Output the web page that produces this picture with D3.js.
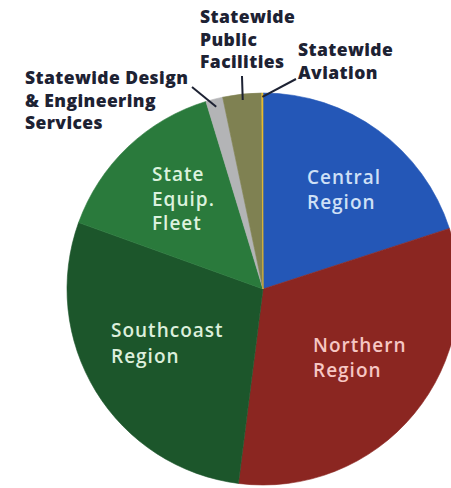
<!DOCTYPE html>
<html>
<head>
<meta charset="utf-8">
<script src="https://cdn.jsdelivr.net/npm/d3@7"></script>
<style>
  html, body { margin: 0; padding: 0; background: #ffffff; }
  svg { display: block; }
</style>
</head>
<body>
<svg id="chart" width="451" height="488"></svg>
<script>
// ---- data ----
const categories = [
  "Central Region",
  "Northern Region",
  "Southcoast Region",
  "State Equip. Fleet",
  "Statewide Design & Engineering Services",
  "Statewide Public Facilities",
  "Statewide Aviation"
];
const shares = [20, 32, 28.5, 14.8, 1.4, 3.2, 0.1];
const sliceColors = ["#2457b7", "#8b2621", "#1c562b", "#2a7a3c", "#b3b4b6", "#7f8152", "#e8bb2c"];

// inner labels (lines) and outer labels (lines)
const innerLabelLines = [
  ["Central", "Region"],
  ["Northern", "Region"],
  ["Southcoast", "Region"],
  ["State", "Equip.", "Fleet"]
];
const innerLabelColors = ["#cfe0f6", "#f6c7c4", "#dcefdc", "#dcf2de"];
const outerLabelLines = [
  ["Statewide Design", "& Engineering", "Services"],
  ["Statewide", "Public", "Facilities"],
  ["Statewide", "Aviation"]
];

// ---- layout ----
const W = 451, H = 488;
const cx = 263, cy = 289, R = 196;
const svg = d3.select("#chart");

const pie = d3.pie().sort(null).value(d => d).startAngle(0).endAngle(2 * Math.PI);
const arcs = pie(shares);
const arc = d3.arc().innerRadius(0).outerRadius(R);

const g = svg.append("g").attr("transform", `translate(${cx},${cy})`);
g.selectAll("path.slice")
  .data(arcs)
  .enter().append("path")
  .attr("class", "slice")
  .attr("d", arc)
  .attr("fill", (d, i) => sliceColors[i])
  .attr("stroke", (d, i) => sliceColors[i])
  .attr("stroke-width", 0.6);

// inner labels: positions (layout constants)
const innerPos = [
  { x: 307, y: 184, dy: 25 },
  { x: 313, y: 352, dy: 25 },
  { x: 111, y: 337, dy: 26 },
  { x: 152, y: 181, dy: 24.5 }
];
innerLabelLines.forEach((lines, i) => {
  const t = svg.append("text")
    .attr("font-family", "'Open Sans', sans-serif")
    .attr("font-weight", 600)
    .attr("font-size", 19)
    .attr("letter-spacing", 1.0)
    .attr("fill", innerLabelColors[i]);
  lines.forEach((ln, k) => {
    t.append("tspan").attr("x", innerPos[i].x).attr("y", innerPos[i].y + k * innerPos[i].dy).text(ln);
  });
});

// outer labels
const outerPos = [
  { x: 25, y: 84, dy: 22.5 },
  { x: 200, y: 23, dy: 22.5 },
  { x: 298, y: 56, dy: 22.5 }
];
const outerSliceIdx = [4, 5, 6];
const leaderStart = [[192, 87], [242, 76], [296, 79]];
const leaderRad = [0.96, 0.97, 0.98];

outerLabelLines.forEach((lines, i) => {
  const t = svg.append("text")
    .attr("font-family", "'Open Sans', sans-serif")
    .attr("font-weight", 800)
    .attr("font-size", 17.5)
    .attr("letter-spacing", 0.4)
    .attr("fill", "#1d2233");
  lines.forEach((ln, k) => {
    t.append("tspan").attr("x", outerPos[i].x).attr("y", outerPos[i].y + k * outerPos[i].dy).text(ln);
  });
  const a = arcs[outerSliceIdx[i]];
  const mid = (a.startAngle + a.endAngle) / 2;
  const ex = cx + Math.sin(mid) * R * leaderRad[i];
  const ey = cy - Math.cos(mid) * R * leaderRad[i];
  svg.append("line")
    .attr("x1", leaderStart[i][0]).attr("y1", leaderStart[i][1])
    .attr("x2", ex).attr("y2", ey)
    .attr("stroke", "#1d2233").attr("stroke-width", 2);
});
</script>
</body>
</html>
